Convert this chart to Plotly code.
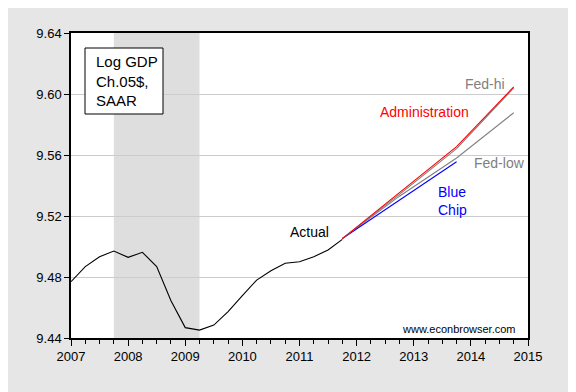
import plotly.graph_objects as go

# ---------------- data ----------------
actual_quarters = ["2007Q1", "2007Q2", "2007Q3", "2007Q4",
                   "2008Q1", "2008Q2", "2008Q3", "2008Q4",
                   "2009Q1", "2009Q2", "2009Q3", "2009Q4",
                   "2010Q1", "2010Q2", "2010Q3", "2010Q4",
                   "2011Q1", "2011Q2", "2011Q3", "2011Q4"]
actual_values = [9.4769, 9.4868, 9.4933, 9.4970,
                 9.4929, 9.4962, 9.4868, 9.4645,
                 9.4468, 9.4452, 9.4485, 9.4573,
                 9.4678, 9.4780, 9.4841, 9.4890,
                 9.4900, 9.4933, 9.4977, 9.5047]

forecast_quarters = ["2011Q4", "2012Q4", "2013Q4", "2014Q4"]
admin_values = [9.5052, 9.5355, 9.5655, 9.6047]
fed_hi_values = [9.5052, 9.5342, 9.5642, 9.6040]
fed_low_values = [9.5052, 9.5330, 9.5580, 9.5877]
bluechip_quarters = ["2011Q4", "2012Q4", "2013Q4"]
bluechip_values = [9.5052, 9.5304, 9.5556]

recession_start = "2007Q4"
recession_end = "2009Q2"

year_ticks = [2007, 2008, 2009, 2010, 2011, 2012, 2013, 2014, 2015]
y_ticks = [9.44, 9.48, 9.52, 9.56, 9.60, 9.64]


def qnum(q):
    y, k = q.split("Q")
    return int(y) + (int(k) - 1) / 4.0


FONT = "Liberation Sans, Arial, sans-serif"

fig = go.Figure()

fig.add_shape(type="rect", xref="x", yref="paper",
              x0=qnum(recession_start), x1=qnum(recession_end),
              y0=0, y1=1, fillcolor="#dedede", line_width=0, layer="below")

fig.add_trace(go.Scatter(x=[qnum(q) for q in actual_quarters], y=actual_values,
                         mode="lines", line=dict(color="black", width=1.1),
                         showlegend=False, hoverinfo="skip"))
fig.add_trace(go.Scatter(x=[qnum(q) for q in forecast_quarters], y=fed_low_values,
                         mode="lines", line=dict(color="#808080", width=1.1),
                         showlegend=False))
fig.add_trace(go.Scatter(x=[qnum(q) for q in bluechip_quarters], y=bluechip_values,
                         mode="lines", line=dict(color="#0000ff", width=1.1),
                         showlegend=False))
fig.add_trace(go.Scatter(x=[qnum(q) for q in forecast_quarters], y=fed_hi_values,
                         mode="lines", line=dict(color="#808080", width=1.1),
                         showlegend=False))
fig.add_trace(go.Scatter(x=[qnum(q) for q in forecast_quarters], y=admin_values,
                         mode="lines", line=dict(color="#ff0000", width=1.1),
                         showlegend=False))

# pixel helpers for annotation placement (plot area 71..528 x 33..338 in window)
def px_x(p):
    return 2007 + (p - 71) / (457 / 8.0)


def px_y(p):
    return 9.44 + (338 - p) / (305 / 0.20)


def label(text, x, y, color, size=14, xanchor="left"):
    fig.add_annotation(x=px_x(x), y=px_y(y), xref="x", yref="y", text=text,
                       showarrow=False, xanchor=xanchor, yanchor="middle",
                       font=dict(family=FONT, size=size, color=color), align="left")


label("Fed-hi", 507, 84, "#808080", xanchor="right")
label("Administration", 378, 112, "#ff0000")
label("Fed-low", 472, 163, "#808080")
label("Blue<br>Chip", 436, 201, "#0000ff")
label("Actual", 288, 232, "black")
label("www.econbrowser.com", 518, 329, "black", size=11, xanchor="right")

fig.add_shape(type="rect", xref="x", yref="y", x0=px_x(85), x1=px_x(163),
              y0=px_y(114), y1=px_y(48), line=dict(color="black", width=1),
              fillcolor="white")
fig.add_annotation(x=px_x(94), y=px_y(81), xref="x", yref="y",
                   text="Log GDP<br>Ch.05$,<br>SAAR", showarrow=False,
                   xanchor="left", yanchor="middle", align="left",
                   font=dict(family=FONT, size=15, color="black"))

fig.update_layout(
    width=576, height=392,
    margin=dict(l=63, r=56, t=25, b=62),
    paper_bgcolor="#e6e6e6", plot_bgcolor="white",
    showlegend=False,
    font=dict(family=FONT, size=13, color="black"),
)
fig.update_xaxes(range=[2007, 2015], tickvals=year_ticks,
                 ticktext=[str(v) for v in year_ticks],
                 ticks="outside", ticklen=6, tickwidth=1, tickcolor="black",
                 minor=dict(dtick=0.25, tick0=2007, ticks="outside", ticklen=4,
                            tickcolor="black", showgrid=False),
                 showgrid=False, zeroline=False,
                 showline=True, linecolor="black", linewidth=1.5, mirror=True,
                 tickfont=dict(size=13))
fig.update_yaxes(range=[9.44, 9.64], tickvals=y_ticks,
                 ticktext=["%.2f" % v for v in y_ticks],
                 ticks="outside", ticklen=5, tickwidth=1, tickcolor="black",
                 showgrid=True, gridcolor="#cccccc", gridwidth=1, zeroline=False,
                 showline=True, linecolor="black", linewidth=1.5, mirror=True,
                 tickfont=dict(size=13))

fig.write_html("out.html")
